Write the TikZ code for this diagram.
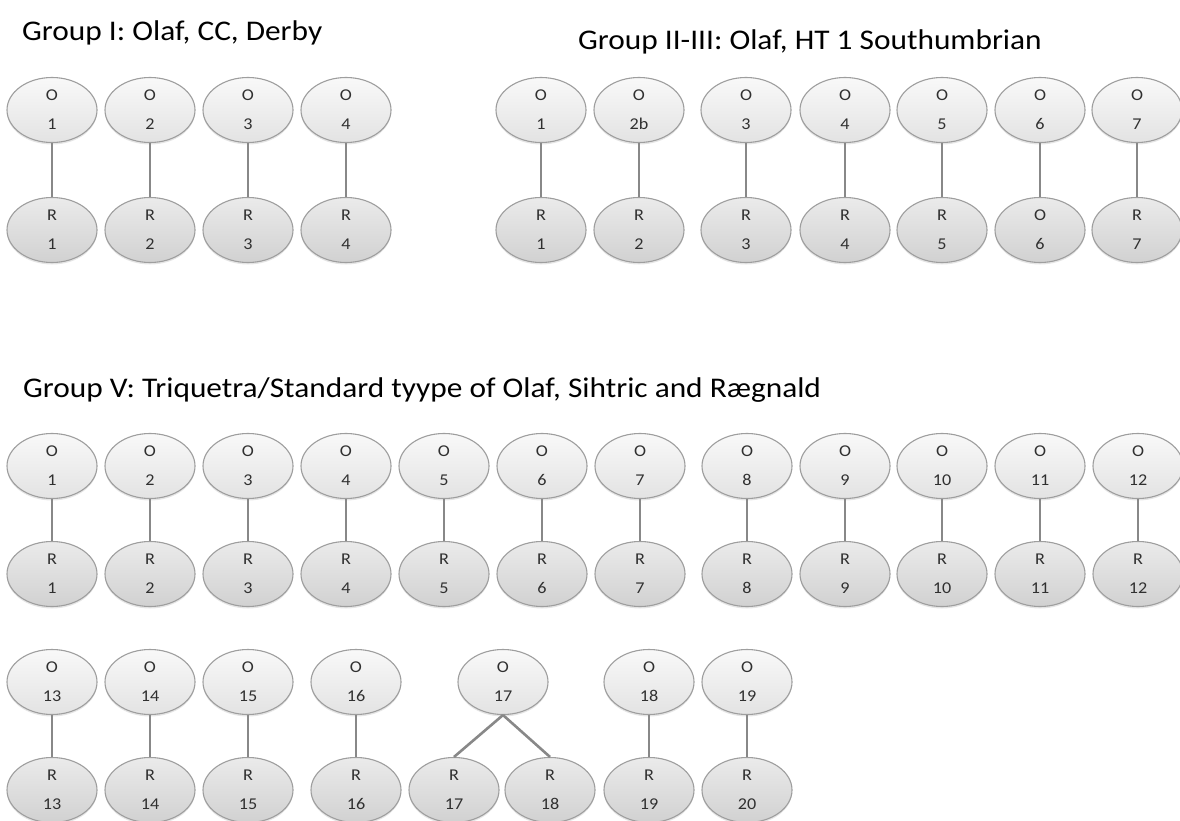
\documentclass[tikz,border=0pt]{standalone}
\usepackage{fontspec}
\setmainfont{Carlito}
\newfontfamily\widefont[FakeStretch=1.1]{Carlito}
\usetikzlibrary{shapes.geometric,shadows}
\definecolor{edgegray}{HTML}{888888}
\definecolor{bordergray}{HTML}{9E9E9E}
\definecolor{txtgray}{HTML}{303030}
\tikzset{
  onode/.style={ellipse, draw=bordergray, line width=1.1pt, top color=gray!5, bottom color=gray!22,
    minimum width=90pt, minimum height=65pt, inner sep=0pt, align=center, text=txtgray,
    font=\widefont\fontsize{16.5}{29}\selectfont,
    drop shadow={opacity=0.2, shadow xshift=0pt, shadow yshift=-2pt}},
  rnode/.style={onode, top color=gray!16, bottom color=gray!36},
  link/.style={draw=edgegray, line width=2.6pt},
  grouptitle/.style={anchor=base west, inner sep=0pt, font=\widefont\fontsize{28.5}{32}\selectfont, text=black}
}
\begin{document}
\begin{tikzpicture}[x=1pt,y=-1pt]
\fill[white] (0,0) rectangle (1180,821);
\useasboundingbox (0,0) rectangle (1180,821);

% titles
\node[grouptitle] (t1) at (22,41) {Group I: Olaf, CC, Derby};
\node[grouptitle] (t2) at (578,50) {Group II-III: Olaf, HT 1 Southumbrian};
\node[grouptitle] (t5) at (23,397) {Group V: Triquetra/Standard tyype of Olaf, Sihtric and Rægnald};

% Group I
\foreach \x/\n in {52/1,150/2,248/3,346/4} {
  \node[onode] (gIo\n) at (\x,110) {O\\\n};
  \node[rnode] (gIr\n) at (\x,230) {R\\\n};
  \draw[link] (gIo\n.south) -- (gIr\n.north);
}

% Group II-III
\foreach \x/\a/\b/\c/\k in {541/1/R/1/1, 639/2b/R/2/2, 746/3/R/3/3, 845/4/R/4/4, 942/5/R/5/5, 1040/6/O/6/6, 1137/7/R/7/7} {
  \node[onode] (gIIo\k) at (\x,110) {O\\\a};
  \node[rnode] (gIIr\k) at (\x,230) {\b\\\c};
  \draw[link] (gIIo\k.south) -- (gIIr\k.north);
}

% Group V, row 1
\foreach \x/\n in {52/1,150/2,248/3,346/4,444/5,542/6,640/7,747/8,845/9,942/10,1040/11,1138/12} {
  \node[onode] (gVo\n) at (\x,466) {O\\\n};
  \node[rnode] (gVr\n) at (\x,574) {R\\\n};
  \draw[link] (gVo\n.south) -- (gVr\n.north);
}

% Group V, row 2
\foreach \x/\n in {52/13,150/14,248/15,356/16,503/17,649/18,747/19} {
  \node[onode] (gVo\n) at (\x,682) {O\\\n};
}
\foreach \x/\n in {52/13,150/14,248/15,356/16,454/17,550/18,649/19,747/20} {
  \node[rnode] (gVr\n) at (\x,790) {R\\\n};
}
\draw[link] (gVo13.south) -- (gVr13.north);
\draw[link] (gVo14.south) -- (gVr14.north);
\draw[link] (gVo15.south) -- (gVr15.north);
\draw[link] (gVo16.south) -- (gVr16.north);
\draw[link] (gVo17.south) -- (gVr17.north);
\draw[link] (gVo17.south) -- (gVr18.north);
\draw[link] (gVo18.south) -- (gVr19.north);
\draw[link] (gVo19.south) -- (gVr20.north);
\end{tikzpicture}
\end{document}
